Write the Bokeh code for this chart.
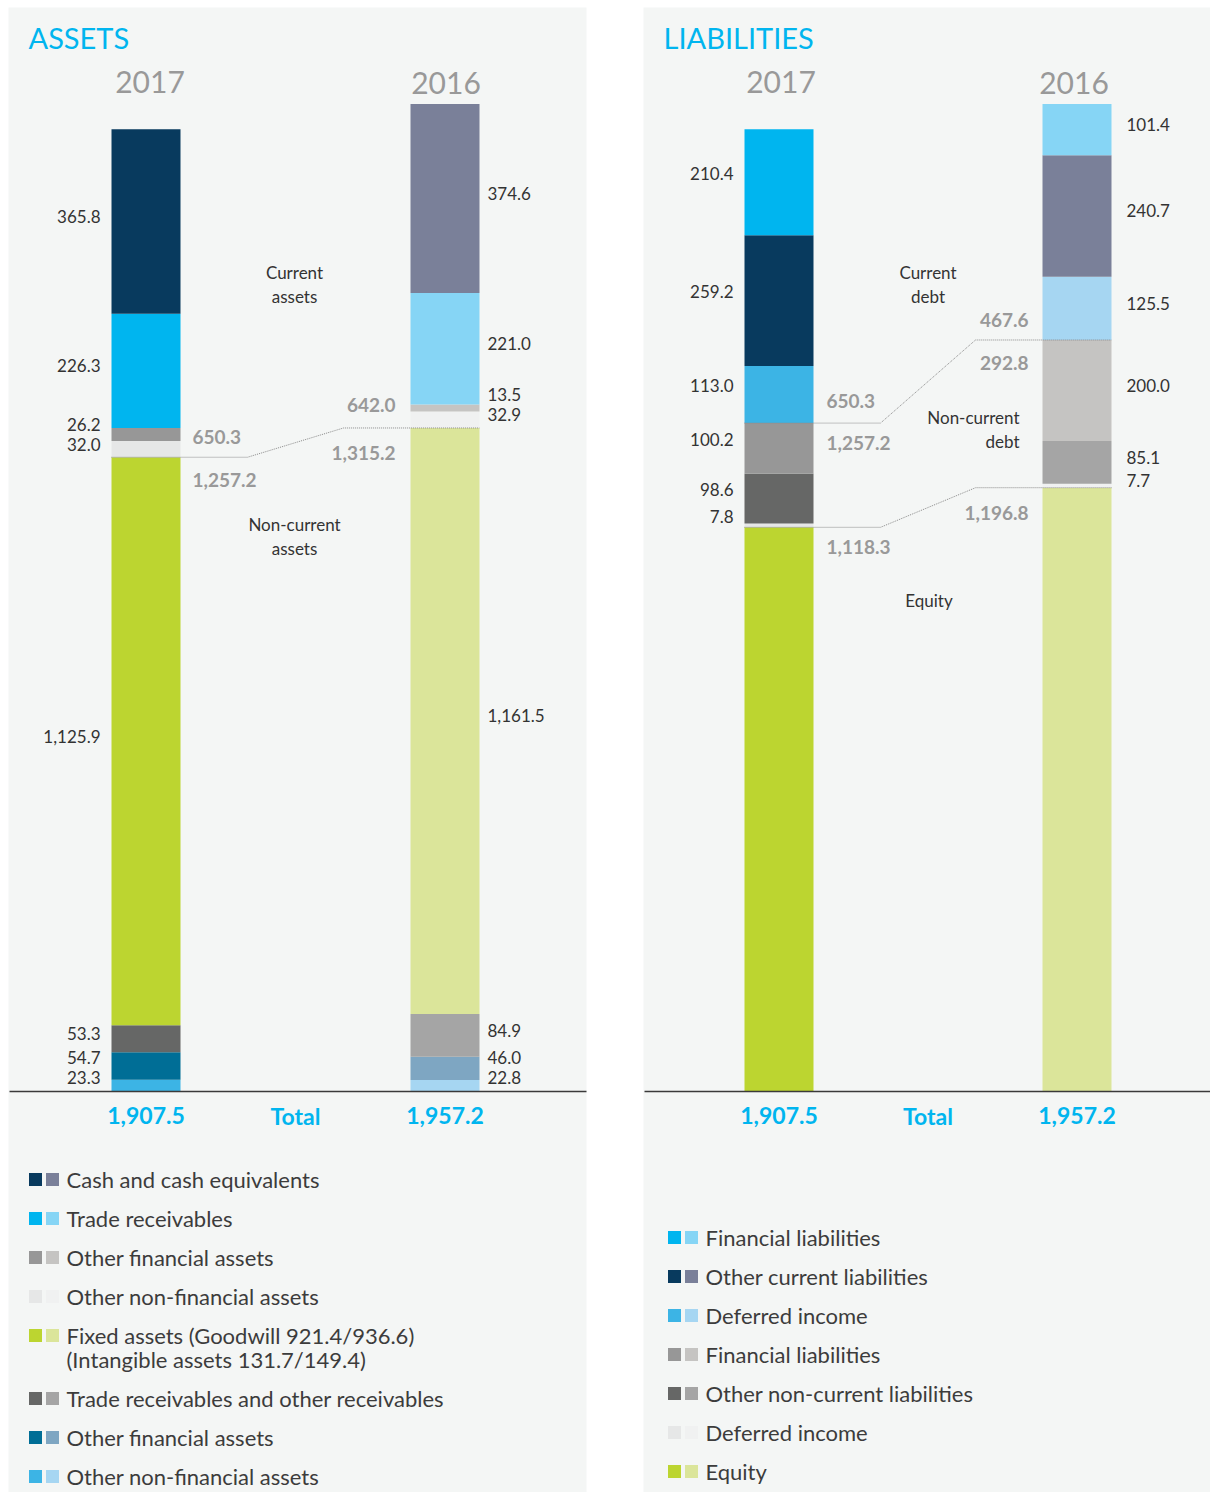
import numpy as np
from bokeh.plotting import figure
from bokeh.models import Range1d, ColumnDataSource
from bokeh.core.properties import value
from bokeh.embed import file_html
from bokeh.resources import INLINE

# ---------------- data (EUR m) ----------------
years = ["2017", "2016"]

# Assets, stacked bottom -> top
asset_names = ["Other non-financial assets", "Other financial assets",
               "Trade receivables and other receivables",
               "Fixed assets (Goodwill 921.4/936.6)\n(Intangible assets 131.7/149.4)",
               "Other non-financial assets", "Other financial assets",
               "Trade receivables", "Cash and cash equivalents"]
assets_2017 = [23.3, 54.7, 53.3, 1125.9, 32.0, 26.2, 226.3, 365.8]
assets_2016 = [22.8, 46.0, 84.9, 1161.5, 32.9, 13.5, 221.0, 374.6]
asset_colors_2017 = ["#3cb4e5", "#006e96", "#666766", "#bcd530",
                     "#e6e7e7", "#979797", "#00b5ef", "#083a5e"]
asset_colors_2016 = ["#a6d6f2", "#7ea6c2", "#a5a5a5", "#dbe59a",
                     "#f0f1f1", "#c5c4c2", "#86d5f5", "#7a8099"]
asset_noncurrent_count = 4
asset_subtotals_2017 = ["650.3", "1,257.2"]      # current, non-current
asset_subtotals_2016 = ["642.0", "1,315.2"]

# Liabilities, stacked bottom -> top
liab_names = ["Equity", "Deferred income", "Other non-current liabilities",
              "Financial liabilities", "Deferred income",
              "Other current liabilities", "Financial liabilities"]
liab_2017 = [1118.3, 7.8, 98.6, 100.2, 113.0, 259.2, 210.4]
liab_2016 = [1196.8, 7.7, 85.1, 200.0, 125.5, 240.7, 101.4]
liab_colors_2017 = ["#bcd530", "#e6e7e7", "#666766", "#979797",
                    "#3cb4e5", "#083a5e", "#00b5ef"]
liab_colors_2016 = ["#dbe59a", "#f0f1f1", "#a5a5a5", "#c5c4c2",
                    "#a6d6f2", "#7a8099", "#86d5f5"]
liab_equity_count = 1
liab_noncurrent_count = 4   # equity + non-current debt
# subtotals as printed: (above debt line, below debt line, below equity line)
liab_subtotals_2017 = ["650.3", "1,257.2", "1,118.3"]
liab_subtotals_2016 = ["467.6", "292.8", "1,196.8"]

# ---------------- layout / style ----------------
FONT = "Lato"
W, H = 1210, 1492
PX = 0.5045          # pixels per EUR m
BASE = 1091          # pixel row of the zero line
BAR_W = 69
BLUE = "#00b5ef"
DARK = "#333333"
LEG = "#3c3c3c"
SUBGREY = "#999999"
PANEL = "#f4f6f5"


def yd(py):
    return (BASE - py) / PX


p = figure(width=W, height=H, x_range=Range1d(0, W), y_range=Range1d(yd(H), yd(0)),
           output_backend="svg", toolbar_location=None, min_border=0,
           x_axis_location=None, y_axis_location=None,
           background_fill_color="white", border_fill_color="white",
           outline_line_color=None)
p.grid.visible = False

# panels
p.quad(left=[8, 643], right=[586, 1210], top=[yd(7)] * 2, bottom=[yd(H)] * 2,
       fill_color=PANEL, line_color=None)


def txt(x, y, s, size, color, align="left", style="normal", base="middle"):
    p.text(x=[x], y=[y], text=[s], text_font=value(FONT),
           text_font_size=f"{size}px", text_color=color, text_align=align,
           text_baseline=base, text_font_style=style)


def stack(xc, vals, colors):
    vals = np.array(vals)
    tops = np.cumsum(vals)
    bottoms = tops - vals
    src = ColumnDataSource(dict(x=[xc] * len(vals), bottom=bottoms, top=tops,
                                color=colors))
    p.vbar(x="x", width=BAR_W, bottom="bottom", top="top", fill_color="color",
           line_color=None, source=src)
    return bottoms, tops


def value_labels(x, vals, bottoms, align, skip=0, gap=20, floor=14, shift=5):
    limit = BASE - floor
    for i, v in enumerate(vals):
        c = BASE - (bottoms[i] + v / 2) * PX - shift
        if i < skip:
            continue
        py = min(c, limit)
        txt(x, yd(py), f"{v:,.1f}", 17, DARK, align=align)
        limit = py - gap


def panel(x0, x1, xa, xb, title, v17, v16, c17, c16, skip, ydx):
    # title and years
    txt(x0 + 20, yd(37), title, 29, BLUE)
    txt(xa + ydx[0], yd(81), years[0], 30, "#999999", align="center")
    txt(xb + ydx[1], yd(82), years[1], 30, "#999999", align="center")
    b17, t17 = stack(xa, v17, c17)
    b16, t16 = stack(xb, v16, c16)
    value_labels(xa - BAR_W / 2 - 11, v17, b17, "right", skip,
                 shift=5 if skip == 0 else 9)
    value_labels(xb + BAR_W / 2 + (8 if skip == 0 else 15), v16, b16, "left", skip)
    # zero line
    p.segment(x0=[x0 + 1], x1=[x1], y0=[0], y1=[0], line_color="#3a3a3a", line_width=1.5)
    # totals
    txt(xa, yd(1115), f"{sum(v17):,.1f}", 23, BLUE, align="center", style="bold")
    txt((xa + xb) / 2, yd(1115), "Total", 23, BLUE, align="center", style="bold")
    txt(xb, yd(1115), f"{sum(v16):,.1f}", 23, BLUE, align="center", style="bold")
    return t17, t16


def connector(xa, xb, ya, yb):
    xs = [xa - BAR_W / 2, xa + BAR_W / 2 + 67, xb - BAR_W / 2 - 67, xb + BAR_W / 2]
    p.line(x=xs, y=[ya, ya, yb, yb], line_dash="1 1", line_color="#8a8a8a", line_width=1)


# ---------------- ASSETS ----------------
A17, A16 = 145.5, 444.5
t17, t16 = panel(8, 586, A17, A16, "ASSETS", assets_2017, assets_2016,
                 asset_colors_2017, asset_colors_2016, 0, (4, 1))
nc17 = t17[asset_noncurrent_count - 1]
nc16 = t16[asset_noncurrent_count - 1]
connector(A17, A16, nc17, nc16)
xl = A17 + BAR_W / 2 + 12
xr = A16 - BAR_W / 2 - 15
SUBF = 19
txt(xl, nc17 + 20 / PX, asset_subtotals_2017[0], SUBF, SUBGREY, style="bold")
txt(xl, nc17 - 23 / PX, asset_subtotals_2017[1], SUBF, SUBGREY, style="bold")
txt(xr, nc16 + 23 / PX, asset_subtotals_2016[0], SUBF, SUBGREY, align="right", style="bold")
txt(xr, nc16 - 25 / PX, asset_subtotals_2016[1], SUBF, SUBGREY, align="right", style="bold")
mid = (A17 + A16) / 2 - 1
txt(mid, yd(272), "Current", 17, DARK, align="center")
txt(mid, yd(296), "assets", 17, DARK, align="center")
txt(mid, yd(524), "Non-current", 17, DARK, align="center")
txt(mid, yd(548), "assets", 17, DARK, align="center")

# legend (top -> bottom = reverse of stack)
py = 1179
for name, ca, cb in zip(asset_names[::-1], asset_colors_2017[::-1], asset_colors_2016[::-1]):
    p.rect(x=[35, 52], y=[yd(py)] * 2, width=13, height=13 / PX,
           fill_color=[ca, cb], line_color=None)
    lines = name.split("\n")
    for k, ln in enumerate(lines):
        txt(66, yd(py + 24 * k), ln, 22, LEG)
    py += 39 + 24 * (len(lines) - 1)

# ---------------- LIABILITIES ----------------
L17, L16 = 778.5, 1076.5
u17, u16 = panel(643, 1210, L17, L16, "LIABILITIES", liab_2017, liab_2016,
                 liab_colors_2017, liab_colors_2016, liab_equity_count, (2, -3))
d17 = u17[liab_noncurrent_count - 1]
d16 = u16[liab_noncurrent_count - 1]
e17 = u17[liab_equity_count - 1]
e16 = u16[liab_equity_count - 1]
connector(L17, L16, d17, d16)
connector(L17, L16, e17, e16)
xl = L17 + BAR_W / 2 + 13
xr = L16 - BAR_W / 2 - 14
txt(xl, d17 + 22 / PX, liab_subtotals_2017[0], SUBF, SUBGREY, style="bold")
txt(xl, d17 - 20 / PX, liab_subtotals_2017[1], SUBF, SUBGREY, style="bold")
txt(xl, e17 - 20 / PX, liab_subtotals_2017[2], SUBF, SUBGREY, style="bold")
txt(xr, d16 + 20 / PX, liab_subtotals_2016[0], SUBF, SUBGREY, align="right", style="bold")
txt(xr, d16 - 23 / PX, liab_subtotals_2016[1], SUBF, SUBGREY, align="right", style="bold")
txt(xr, e16 - 25 / PX, liab_subtotals_2016[2], SUBF, SUBGREY, align="right", style="bold")
mid = (L17 + L16) / 2
txt(mid, yd(272), "Current", 17, DARK, align="center")
txt(mid, yd(296), "debt", 17, DARK, align="center")
txt(1019, yd(417), "Non-current", 17, DARK, align="right")
txt(1019, yd(441), "debt", 17, DARK, align="right")
txt(mid + 1, yd(600), "Equity", 17, DARK, align="center")

py = 1237
for name, ca, cb in zip(liab_names[::-1], liab_colors_2017[::-1], liab_colors_2016[::-1]):
    p.rect(x=[674, 691], y=[yd(py)] * 2, width=13, height=13 / PX,
           fill_color=[ca, cb], line_color=None)
    txt(705, yd(py), name, 22, LEG)
    py += 39

open("out.html", "w").write(file_html(p, INLINE))
